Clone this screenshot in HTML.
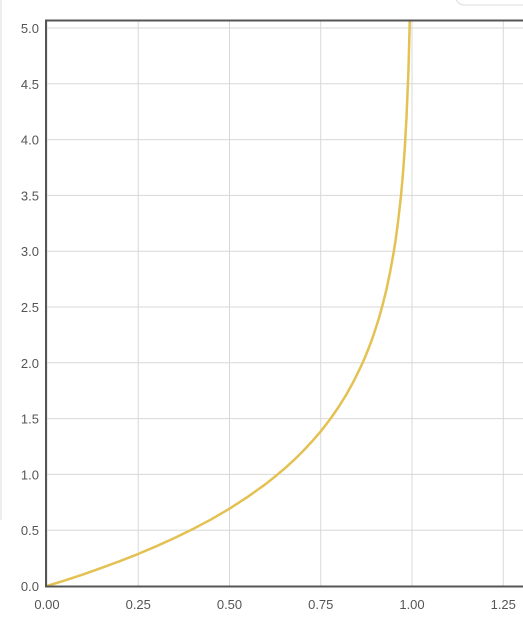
<!DOCTYPE html>
<html><head><meta charset="utf-8"><style>
body{margin:0;background:#fff;width:523px;height:618px;overflow:hidden;font-family:"Liberation Sans",sans-serif}
svg text{font-size:13px;fill:#555}
</style></head><body>
<svg id="chart" width="523" height="618">
<defs><clipPath id="pc"><rect x="46" y="21" width="477" height="566"/></clipPath></defs>
<line x1="1" y1="0" x2="1" y2="520" stroke="#ddd" stroke-width="1"/>
<rect x="456" y="-12" width="80" height="17" rx="8" fill="#fff" stroke="#ddd"/>
<g id="grid"></g><g id="labels"></g>
<path id="curve" clip-path="url(#pc)" fill="none" stroke="#e3c152" stroke-width="2.5" stroke-linejoin="round"/>
<line x1="45" y1="20.5" x2="523" y2="20.5" stroke="#555" stroke-width="2"/>
<line x1="46" y1="20" x2="46" y2="587" stroke="#555" stroke-width="2"/>
<line x1="45" y1="586.5" x2="523" y2="586.5" stroke="#555" stroke-width="2"/>
</svg>
<script>
const xTicks=[0,0.25,0.5,0.75,1.0,1.25];
const xTickLabels=["0.00","0.25","0.50","0.75","1.00","1.25"];
const yTicks=[0,0.5,1,1.5,2,2.5,3,3.5,4,4.5,5];
const yTickLabels=["0.0","0.5","1.0","1.5","2.0","2.5","3.0","3.5","4.0","4.5","5.0"];
const xs=[0,0.05,0.1,0.15,0.2,0.25,0.3,0.35,0.4,0.45,0.5,0.55,0.6,0.625,0.65,0.675,0.7,0.725,0.75,0.775,0.8,0.82,0.84,0.86,0.87,0.88,0.89,0.9,0.91,0.92,0.93,0.94,0.95,0.955,0.96,0.965,0.97,0.975,0.98,0.985,0.99,0.9933,0.996];
const ys=[0,0.051,0.105,0.163,0.223,0.288,0.357,0.431,0.511,0.598,0.693,0.799,0.916,0.981,1.05,1.124,1.204,1.291,1.386,1.492,1.609,1.715,1.833,1.966,2.04,2.12,2.207,2.303,2.408,2.526,2.659,2.813,2.996,3.101,3.219,3.352,3.507,3.689,3.912,4.2,4.605,5.0,5.52];
const X=v=>47+v*365, Y=v=>586-v*111.6;
const ns="http://www.w3.org/2000/svg";
const g=document.getElementById('grid'), lb=document.getElementById('labels');
xTicks.forEach((t,i)=>{
 const l=document.createElementNS(ns,'line');
 l.setAttribute('x1',X(t));l.setAttribute('x2',X(t));l.setAttribute('y1',21);l.setAttribute('y2',586);
 l.setAttribute('stroke','#d8d8d8');
 
 
 g.appendChild(l);
 const tx=document.createElementNS(ns,'text');
 tx.setAttribute('x',X(t));tx.setAttribute('y',609);tx.setAttribute('text-anchor','middle');
 tx.textContent=xTickLabels[i];
 
 
 lb.appendChild(tx);
});
yTicks.forEach((t,i)=>{
 const l=document.createElementNS(ns,'line');
 l.setAttribute('x1',46);l.setAttribute('x2',523);l.setAttribute('y1',Y(t));l.setAttribute('y2',Y(t));
 l.setAttribute('stroke','#d8d8d8');
 
 
 g.appendChild(l);
 const tx=document.createElementNS(ns,'text');
 tx.setAttribute('x',39);tx.setAttribute('y',Y(t)+5);tx.setAttribute('text-anchor','end');
 tx.textContent=yTickLabels[i];
 
 
 lb.appendChild(tx);
});
document.getElementById('curve').setAttribute('d',xs.map((x,i)=>(i?'L':'M')+X(x).toFixed(1)+','+Y(ys[i]).toFixed(1)).join(''));
</script>
</body></html>
